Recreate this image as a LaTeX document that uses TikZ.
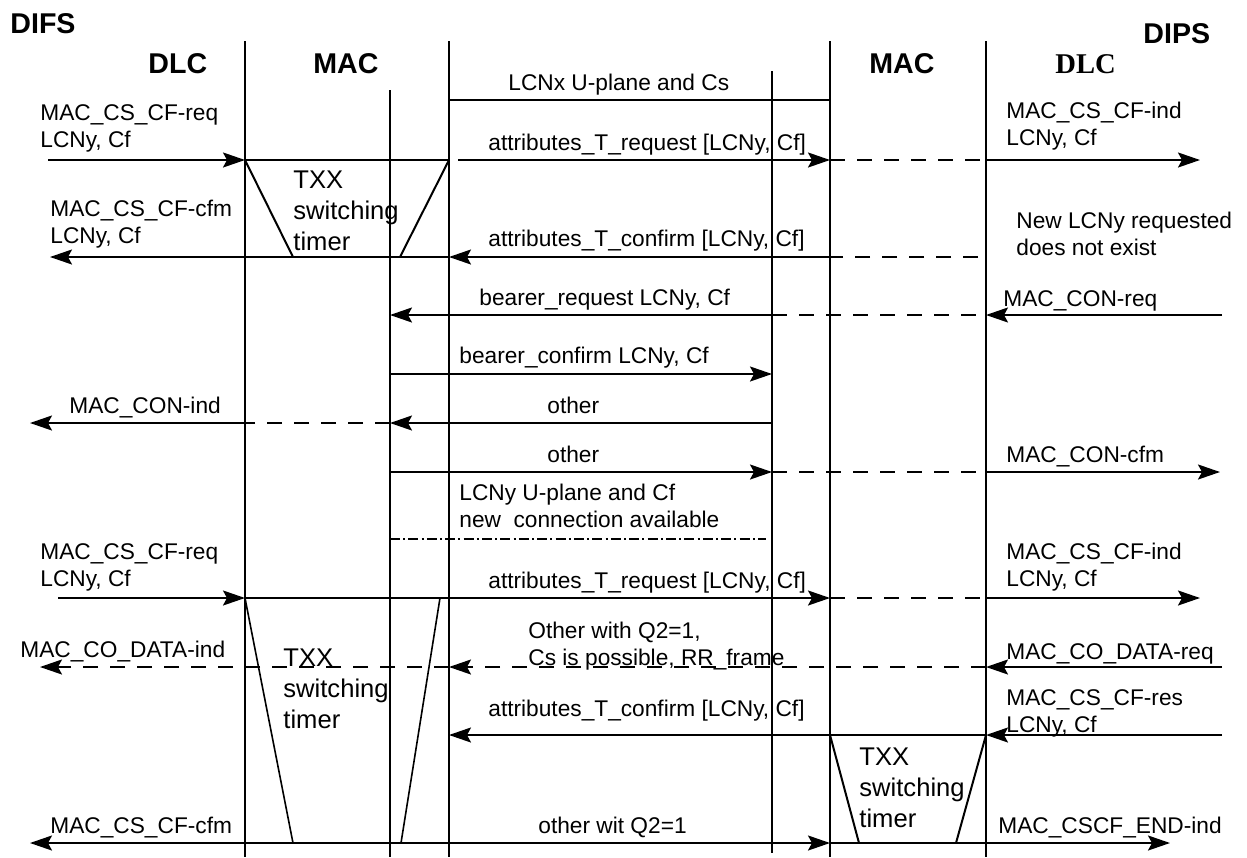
\documentclass[tikz,border=0pt]{standalone}
\usepackage{fontspec}
\setmainfont{Liberation Sans}
\newfontfamily\dlcserif{Liberation Serif}
\usetikzlibrary{arrows.meta}

\begin{document}
\begin{tikzpicture}[x=0.5pt, y=-0.5pt,
  lane/.style={line width=1pt},
  msg/.style={line width=1pt, -{Stealth[length=11pt, width=7.5pt, inset=2pt]}},
  dmsg/.style={msg, dash pattern=on 7.5pt off 6pt},
  gapline/.style={line width=1pt, dash pattern=on 7.5pt off 6pt},
  dotline/.style={line width=0.7pt, dash pattern=on 5pt off 1.6pt on 1pt off 1.6pt},
  timerline/.style={line width=1pt},
  txt/.style={anchor=base west, inner sep=0pt, align=left, font=\fontsize{11.35}{13.2}\selectfont},
  head/.style={anchor=base west, inner sep=0pt, font=\fontsize{14.3}{17}\selectfont\bfseries},
  tlabel/.style={anchor=base west, inner sep=0pt, align=left, font=\fontsize{12.8}{15.3}\selectfont}]
  \useasboundingbox (0,0) rectangle (1247,857);

  % lifelines and rows
  \coordinate (dlcL) at (245,41);
  \coordinate (macL1) at (390,90);
  \coordinate (macL2) at (449,41);
  \coordinate (macR1) at (772,71);
  \coordinate (macR2) at (830,41);
  \coordinate (dlcR) at (986,41);
  \coordinate (bot) at (0,857);
  \coordinate (r0) at (0,100);
  \coordinate (r1) at (0,160);
  \coordinate (r2) at (0,257);
  \coordinate (r3) at (0,315);
  \coordinate (r4) at (0,374);
  \coordinate (r5) at (0,423);
  \coordinate (r6) at (0,472);
  \coordinate (r7) at (0,539);
  \coordinate (r8) at (0,598);
  \coordinate (r9) at (0,667);
  \coordinate (r10) at (0,735);
  \coordinate (r11) at (0,843);

  % free ends
  \coordinate (inA) at (48,160);
  \coordinate (startA) at (458,160);
  \coordinate (outA) at (1200,160);
  \coordinate (outB) at (50,257);
  \coordinate (gapB) at (978,257);
  \coordinate (inC) at (1222,315);
  \coordinate (outC) at (30,423);
  \coordinate (outD) at (1220,472);
  \coordinate (dotend) at (766,539);
  \coordinate (inE) at (58,598);
  \coordinate (outE) at (1200,598);
  \coordinate (inF) at (1222,667);
  \coordinate (outF) at (40,667);
  \coordinate (inG) at (1222,735);
  \coordinate (outG) at (30,843);
  \coordinate (outH) at (1170,843);
  \coordinate (tA1) at (293,257);
  \coordinate (tA2) at (400,257);
  \coordinate (tB0) at (440,598);
  \coordinate (tB1) at (293,843);
  \coordinate (tB2) at (401,843);
  \coordinate (tC1) at (859,843);
  \coordinate (tC2) at (956,843);

  \draw[lane] (dlcL) -- (dlcL |- bot);
  \draw[lane] (macL1) -- (macL1 |- bot);
  \draw[lane] (macL2) -- (macL2 |- bot);
  \draw[lane] (macR1) -- (macR1 |- 0,853);
  \draw[lane] (macR2) -- (macR2 |- bot);
  \draw[lane] (dlcR) -- (dlcR |- bot);

  \node[head] (difs) at (10,33) {DIFS};
  \node[head] (dips) at (1143,43) {DIPS};
  \node[head] (hdlcL) at (148,73) {DLC};
  \node[head] (hmacL) at (313,73) {MAC};
  \node[head] (hmacR) at (869,73) {MAC};
  \node[head, font=\fontsize{14.3}{17}\selectfont\dlcserif\bfseries] (hdlcR) at (1055,73) {DLC};

  \node[txt] (lcnx) at (508,90) {LCNx U-plane and Cs};
  \node[txt] (reqA) at (40,147) {MAC\_CS\_CF-req\\LCNy, Cf};
  \node[txt] (atrA) at (488,150) {attributes\_T\_request [LCNy, Cf]};
  \node[txt] (indA) at (1006,145) {MAC\_CS\_CF-ind\\LCNy, Cf};
  \node[tlabel] (txxA) at (293,250) {TXX\\switching\\timer};
  \node[txt] (cfmA) at (50,243) {MAC\_CS\_CF-cfm\\LCNy, Cf};
  \node[txt] (atcA) at (488,246) {attributes\_T\_confirm [LCNy, Cf]};
  \node[txt] (noex) at (1016,255) {New LCNy requested\\does not exist};
  \node[txt] (brq) at (479,305) {bearer\_request LCNy, Cf};
  \node[txt] (conreq) at (1003,306) {MAC\_CON-req};
  \node[txt] (bcf) at (459,363) {bearer\_confirm LCNy, Cf};
  \node[txt] (conind) at (69,413) {MAC\_CON-ind};
  \node[txt] (othA) at (547,413) {other};
  \node[txt] (othB) at (547,462) {other};
  \node[txt] (concfm) at (1006,462) {MAC\_CON-cfm};
  \node[txt] (lcny) at (459,527) {LCNy U-plane and Cf\\new\ \ connection available};
  \node[txt] (reqB) at (40,586) {MAC\_CS\_CF-req\\LCNy, Cf};
  \node[txt] (indB) at (1006,586) {MAC\_CS\_CF-ind\\LCNy, Cf};
  \node[txt] (atrB) at (488,588) {attributes\_T\_request [LCNy, Cf]};
  \node[txt] (othq) at (528,665) {Other with Q2=1,\\Cs is possible, RR\_frame};
  \node[txt] (dind) at (20,657) {MAC\_CO\_DATA-ind};
  \node[txt] (dreq) at (1006,659) {MAC\_CO\_DATA-req};
  \node[tlabel] (txxB) at (283,728) {TXX\\switching\\timer};
  \node[txt] (atcB) at (488,716) {attributes\_T\_confirm [LCNy, Cf]};
  \node[txt] (cfres) at (1006,732) {MAC\_CS\_CF-res\\LCNy, Cf};
  \node[tlabel] (txxC) at (859,827) {TXX\\switching\\timer};
  \node[txt] (cfmB) at (50,833) {MAC\_CS\_CF-cfm};
  \node[txt] (othC) at (538,833) {other wit Q2=1};
  \node[txt] (endind) at (998,833) {MAC\_CSCF\_END-ind};

  \draw[lane] (macL2 |- r0) -- (macR2 |- r0);

  \draw[msg] (inA) -- (dlcL |- r1);
  \draw[lane] (dlcL |- r1) -- (macL2 |- r1);
  \draw[msg] (startA) -- (macR2 |- r1);
  \draw[gapline] (macR2 |- r1) -- (dlcR |- r1);
  \draw[msg] (dlcR |- r1) -- (outA);
  \draw[timerline] (dlcL |- r1) -- (tA1);
  \draw[timerline] (macL2 |- r1) -- (tA2);

  \draw[msg] (macR2 |- r2) -- (macL2 |- r2);
  \draw[msg] (macL2 |- r2) -- (outB);
  \draw[gapline] (gapB) -- (macR2 |- r2);

  \draw[msg] (macR1 |- r3) -- (macL1 |- r3);
  \draw[gapline] (macR1 |- r3) -- (dlcR |- r3);
  \draw[msg] (inC) -- (dlcR |- r3);

  \draw[msg] (macL1 |- r4) -- (macR1 |- r4);

  \draw[msg] (macR1 |- r5) -- (macL1 |- r5);
  \draw[gapline] (macL1 |- r5) -- (dlcL |- r5);
  \draw[msg] (dlcL |- r5) -- (outC);

  \draw[msg] (macL1 |- r6) -- (macR1 |- r6);
  \draw[gapline] (macR1 |- r6) -- (dlcR |- r6);
  \draw[msg] (dlcR |- r6) -- (outD);

  \draw[dotline] (macL1 |- r7) -- (dotend);

  \draw[msg] (inE) -- (dlcL |- r8);
  \draw[msg] (dlcL |- r8) -- (macR2 |- r8);
  \draw[gapline] (macR2 |- r8) -- (dlcR |- r8);
  \draw[msg] (dlcR |- r8) -- (outE);
  \draw[timerline, line width=0.8pt] (dlcL |- r8) -- (tB1);
  \draw[timerline, line width=0.8pt] (tB0) -- (tB2);

  \draw[msg] (inF) -- (dlcR |- r9);
  \draw[dmsg] (dlcR |- r9) -- (macL2 |- r9);
  \draw[dmsg] (macL2 |- r9) -- (outF);

  \draw[msg] (inG) -- (dlcR |- r10);
  \draw[msg] (dlcR |- r10) -- (macL2 |- r10);
  \draw[timerline] (macR2 |- r10) -- (tC1);
  \draw[timerline] (dlcR |- r10) -- (tC2);

  \draw[msg] (macL2 |- r11) -- (macR2 |- r11);
  \draw[msg] (macR2 |- r11) -- (outH);
  \draw[msg] (macL2 |- r11) -- (outG);
\end{tikzpicture}
\end{document}
